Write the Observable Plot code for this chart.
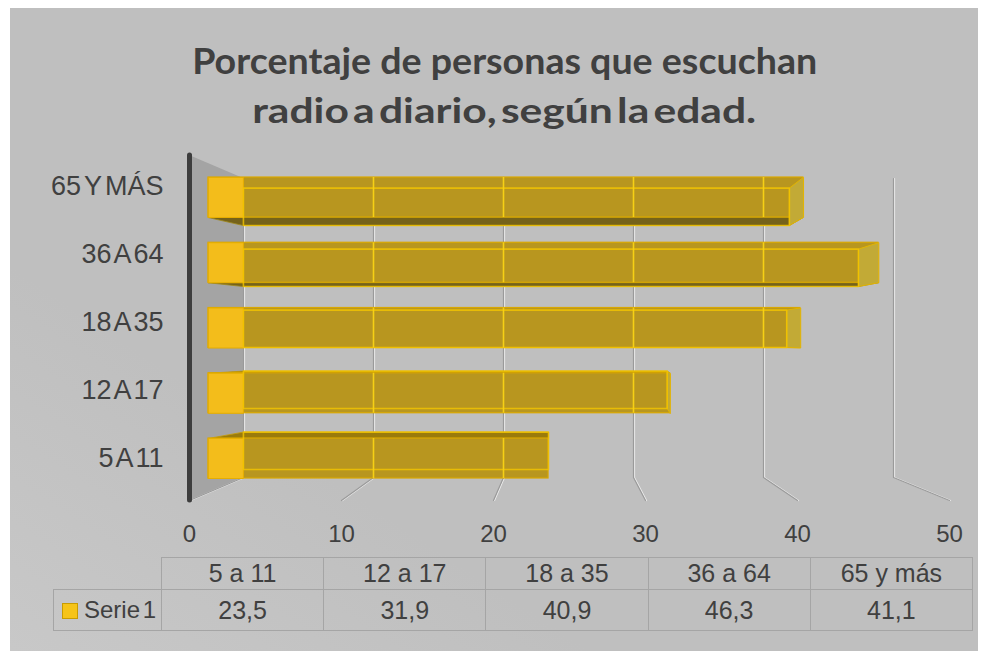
<!DOCTYPE html>
<html lang="es">
<head>
<meta charset="utf-8">
<script src="https://cdn.jsdelivr.net/npm/d3@7"></script>
<script src="https://cdn.jsdelivr.net/npm/@observablehq/plot@0.6"></script>
<style>
html,body{margin:0;padding:0;background:#fff;}
#wrap{position:relative;width:988px;height:651px;overflow:hidden;background:#fff;font-family:"Liberation Sans",Arial,sans-serif;color:#404040;}
#panel{position:absolute;left:10px;top:8px;width:968px;height:643px;background:linear-gradient(to top right,#c8c8c8 0%,#bfbfbf 30%,#bfbfbf 100%);}
#wrap svg{position:absolute;left:0;top:0;background:transparent !important;overflow:visible;}
.title{position:absolute;left:0;top:0;white-space:nowrap;font-family:Lato,"Open Sans",sans-serif;font-weight:700;color:#404040;transform-origin:50% 0;line-height:1.2;}
#tbl{position:absolute;left:53px;top:557px;border-collapse:collapse;table-layout:fixed;font-size:25px;color:#404040;font-family:"Liberation Sans",Arial,sans-serif;}
#tbl td{border:1px solid #a5a5a5;text-align:center;padding:0;white-space:nowrap;}
#tbl td.empty{border:none;}
#tbl tr.h{height:32px;}
#tbl tr.v{height:41px;}
#tbl td.leg{text-align:left;padding-left:8px;word-spacing:-4px;font-size:24px;}
.sw{display:inline-block;width:14px;height:14px;background:#f6c418;border:1px solid #c99c00;vertical-align:-1px;margin-right:6px;}
</style>
</head>
<body>
<div id="wrap"><div id="panel"></div></div>
<script>
// ---------- data ----------
const categories = ["5 A 11", "12 A 17", "18 A 35", "36 A 64", "65 Y MÁS"];
const tableLabels = ["5 a 11", "12 a 17", "18 a 35", "36 a 64", "65 y más"];
const values = [23.5, 31.9, 40.9, 46.3, 41.1];
const seriesName = "Serie 1";
const xTicks = [0, 10, 20, 30, 40, 50];
const titleLines = ["Porcentaje de personas que escuchan", "radio a diario, según la edad."];

const data = categories.map((cat, i) => ({cat, label: tableLabels[i], value: values[i]}));
const catsTopDown = categories.slice().reverse();

// ---------- layout ----------
const W = 988, H = 651;
const G = {
  axisTop: 155, backTop: 178, backBottom: 477, frontBottom: 500,
  backRange: [243, 893], frontRange: [189, 949], barRange: [208, 931.5],
  barBand: [177, 478], labelPoints: [185, 458],
  vp: [634, 340], sx: 0.082, sy: 0.065,
  titleSize: [37, 35], titleWidth: [625, 504], titleBase: [74, 123], titleCenter: 504.5
};
const font = '"Liberation Sans", Arial, sans-serif';

const xBack = Plot.scale({x: {domain: [0, 50], range: G.backRange}});
const xFront = Plot.scale({x: {domain: [0, 50], range: G.frontRange}});
const xBar = Plot.scale({x: {domain: [0, 50], range: G.barRange}});
const yBand = {type: "band", domain: catsTopDown, range: G.barBand, paddingInner: 0.387, paddingOuter: 0, round: false};
const yBar = Plot.scale({y: yBand});

const wrap = document.getElementById("wrap");
function add(svg) { svg.style.position = "absolute"; svg.style.left = "0px"; svg.style.top = "0px"; svg.style.background = "transparent"; wrap.append(svg); }
const baseStyle = {background: "transparent", fontFamily: font, color: "#404040", overflow: "visible"};
const identity = {x: {type: "identity", axis: null}, y: {type: "identity", axis: null}};

// ---------- 3D box geometry from the scales ----------
function box(d) {
  const yT = yBar.apply(d.cat), yB = yT + yBar.bandwidth;
  const xL = xBar.apply(0), xR = xBar.apply(d.value);
  const p = (x, y) => ({x: x + (G.vp[0] - x) * G.sx, y: y + (G.vp[1] - y) * G.sy});
  const F = {tl: {x: xL, y: yT}, tr: {x: xR, y: yT}, br: {x: xR, y: yB}, bl: {x: xL, y: yB}};
  const B = {tl: p(xL, yT), tr: p(xR, yT), br: p(xR, yB), bl: p(xL, yB)};
  B.tr.x = Math.min(B.tr.x, xR); B.br.x = Math.min(B.br.x, xR);
  return {...d, F, B};
}
const boxes = data.map(box);
const quad = (id, pts) => pts.map(q => ({id, x: q.x, y: q.y}));

const backFaces = boxes.flatMap(b => quad(b.cat, [b.B.tl, b.B.tr, b.B.br, b.B.bl]));
const bottomFaces = boxes.filter(b => b.B.bl.y > b.F.bl.y + 0.5).flatMap(b => quad(b.cat, [b.F.bl, b.F.br, b.B.br, b.B.bl]));
const topFaces = boxes.filter(b => b.B.tl.y < b.F.tl.y - 0.5).flatMap(b => quad(b.cat, [b.F.tl, b.F.tr, b.B.tr, b.B.tl]));
const leftCaps = boxes.flatMap(b => quad(b.cat, [b.F.tl, {x: b.B.tl.x, y: b.F.tl.y}, {x: b.B.bl.x, y: b.F.bl.y}, b.F.bl]));
const rightFaces = boxes.filter(b => b.B.tr.x < b.F.tr.x - 0.5).flatMap(b => quad(b.cat, [b.F.tr, b.B.tr, b.B.br, b.F.br]));
const throughRows = data.flatMap(d => xTicks.filter(t => t > 0 && t < d.value).map(t => ({cat: d.cat, t})));

// ---------- layer A: wall, floor grid ----------
const gridRows = xTicks.flatMap(t => [
  {t, x: xBack.apply(t), y: G.backTop},
  {t, x: xBack.apply(t), y: G.backBottom},
  {t, x: xFront.apply(t), y: G.frontBottom}
]);
const wall = [
  {x: xFront.apply(0), y1: G.axisTop, y2: G.frontBottom},
  {x: xBack.apply(0), y1: G.backTop, y2: G.backBottom}
];
add(Plot.plot({
  width: W, height: H, margin: 0, ...identity, style: baseStyle,
  marks: [
    Plot.areaY(wall, {x: "x", y1: "y1", y2: "y2", fill: "#a4a4a4"}),
    Plot.line(gridRows, {x: "x", y: "y", z: "t", stroke: "#ececec", strokeWidth: 1.2, dx: 1}),
    Plot.line(gridRows, {x: "x", y: "y", z: "t", stroke: "#9a9a9a", strokeWidth: 1.2}),
    Plot.ruleX([xFront.apply(0)], {y1: G.axisTop, y2: G.frontBottom, stroke: "#3d3d3d", strokeWidth: 5, strokeLinecap: "round"})
  ]
}));

// ---------- layer A2: hidden faces ----------
add(Plot.plot({
  width: W, height: H, margin: 0, ...identity, style: baseStyle,
  marks: [
    Plot.line(backFaces, {x: "x", y: "y", z: "id", fill: "#b8961f", stroke: "none", curve: "linear-closed"}),
    Plot.line(bottomFaces, {x: "x", y: "y", z: "id", fill: "#75621a", stroke: "#a08818", strokeWidth: 0.8, curve: "linear-closed"}),
    Plot.line(topFaces, {x: "x", y: "y", z: "id", fill: "#9a7b0c", stroke: "#c89c00", strokeWidth: 0.8, curve: "linear-closed"})
  ]
}));

// ---------- layer B: bars (front faces) ----------
add(Plot.plot({
  width: W, height: H, margin: 0, style: baseStyle,
  x: {domain: [0, 50], range: G.barRange, axis: null},
  y: {...yBand, axis: null},
  marks: [
    Plot.barX(data, {x1: 0, x2: "value", y: "cat", fill: "#b8961f", stroke: "#d9a700", strokeWidth: 1.2})
  ]
}));

// ---------- layer C: visible end faces and edges ----------
add(Plot.plot({
  width: W, height: H, margin: 0, ...identity, style: baseStyle,
  marks: [
    Plot.line(leftCaps, {x: "x", y: "y", z: "id", fill: "#f3bd1b", stroke: "#e6ae00", strokeWidth: 1, curve: "linear-closed"}),
    Plot.line(rightFaces, {x: "x", y: "y", z: "id", fill: "#c2aa36", stroke: "#e3b400", strokeWidth: 1, curve: "linear-closed"}),
    Plot.line(backFaces, {x: "x", y: "y", z: "id", fill: "none", stroke: "#f4c600", strokeWidth: 1.6, strokeOpacity: 0.8, curve: "linear-closed"})
  ]
}));

// ---------- layer C2: back grid lines seen through the bars ----------
add(Plot.plot({
  width: W, height: H, margin: 0, style: baseStyle,
  x: {domain: [0, 50], range: G.backRange, axis: null},
  y: {...yBand, axis: null},
  marks: [
    Plot.tickX(throughRows, {x: "t", y: "cat", stroke: "#f6d015", strokeWidth: 1.6})
  ]
}));

// ---------- layer D: axes ----------
add(Plot.plot({
  width: W, height: H, marginLeft: 166, marginTop: 0, marginRight: 0, marginBottom: 127,
  style: {...baseStyle, fontSize: "24px", wordSpacing: "-4px"},
  x: {domain: [0, 50], range: G.frontRange},
  y: {type: "point", domain: catsTopDown, range: G.labelPoints, padding: 0},
  marks: [
    Plot.axisY({anchor: "left", tickSize: 0, tickPadding: 3, fontSize: 27, label: null}),
    Plot.axisX(xTicks, {anchor: "bottom", tickSize: 0, tickPadding: 0, fontSize: 24, label: null})
  ]
}));

// ---------- data table ----------
const fmt = v => v.toFixed(1).replace(".", ",");
const tbl = document.createElement("table");
tbl.id = "tbl";
tbl.style.width = (108 + 5 * 162.2) + "px";
const cg = document.createElement("colgroup");
[108, ...tableLabels.map(() => 162.2)].forEach(w => { const c = document.createElement("col"); c.style.width = w + "px"; cg.append(c); });
tbl.append(cg);
const trH = document.createElement("tr"); trH.className = "h";
const e = document.createElement("td"); e.className = "empty"; trH.append(e);
tableLabels.forEach(l => { const td = document.createElement("td"); td.textContent = l; trH.append(td); });
const trV = document.createElement("tr"); trV.className = "v";
const lg = document.createElement("td"); lg.className = "leg";
const sw = document.createElement("span"); sw.className = "sw";
lg.append(sw, document.createTextNode(seriesName));
trV.append(lg);
values.forEach(v => { const td = document.createElement("td"); td.textContent = fmt(v); trV.append(td); });
tbl.append(trH, trV);
wrap.append(tbl);

// ---------- title ----------
titleLines.forEach((txt, i) => {
  const div = document.createElement("div");
  div.className = "title";
  div.style.fontSize = G.titleSize[i] + "px";
  if (i === 1) div.style.wordSpacing = "-5px";
  const span = document.createElement("span"); span.textContent = txt;
  const mk = document.createElement("span");
  mk.style.cssText = "display:inline-block;width:0;height:0;vertical-align:baseline;";
  div.append(span, mk);
  wrap.append(div);
  const w = span.getBoundingClientRect().width;
  const wr = wrap.getBoundingClientRect();
  const base = mk.getBoundingClientRect().bottom - wr.top;
  div.style.left = (G.titleCenter - w / 2) + "px";
  div.style.top = (G.titleBase[i] - base) + "px";
  div.style.transform = `scaleX(${G.titleWidth[i] / w})`;
});
</script>
</body>
</html>
